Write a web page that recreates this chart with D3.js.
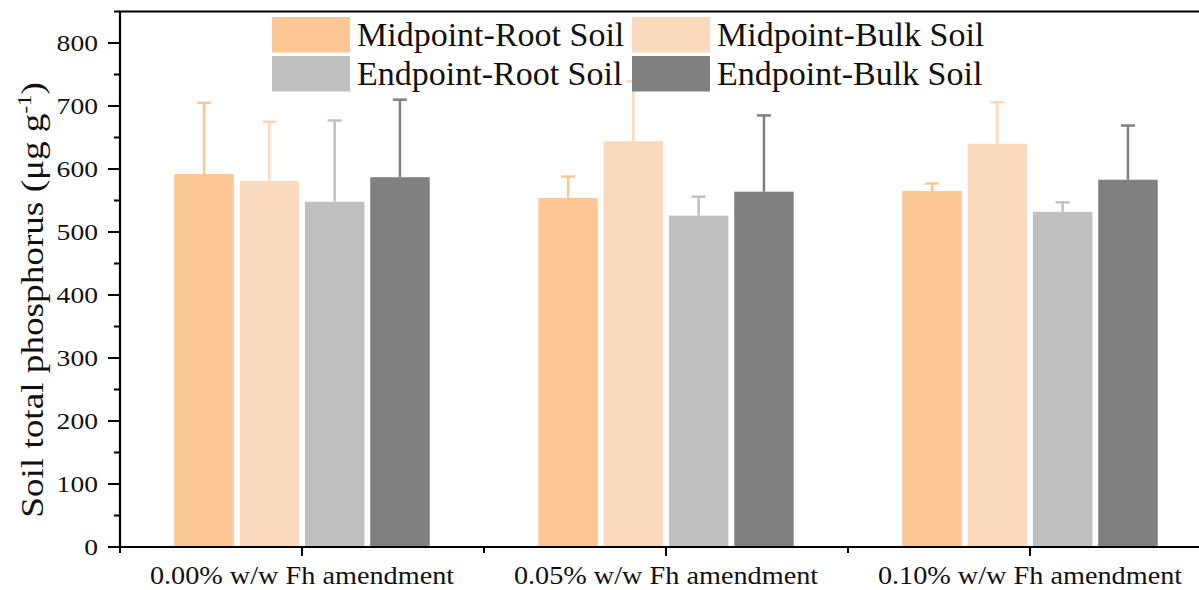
<!DOCTYPE html>
<html><head><meta charset="utf-8">
<script src="https://cdn.jsdelivr.net/npm/d3@7"></script>
<style>html,body{margin:0;padding:0;background:#fff;overflow:hidden}svg{display:block}text{font-family:"Liberation Serif","Times New Roman",serif;fill:#111}</style>
</head><body><svg id="c" width="1199" height="590"></svg>
<script>
const categories = ["0.00% w/w Fh amendment", "0.05% w/w Fh amendment", "0.10% w/w Fh amendment"];
const seriesNames = ["Midpoint-Root Soil", "Midpoint-Bulk Soil", "Endpoint-Root Soil", "Endpoint-Bulk Soil"];
const seriesColors = ["#FCC795", "#FAD9BC", "#C0C0C0", "#808080"];
const midRoot = [592, 554, 565];
const midRootErr = [113, 34, 12];
const midBulk = [581, 644, 640];
const midBulkErr = [94, 95, 66];
const endRoot = [548, 526, 532];
const endRootErr = [129, 30, 15];
const endBulk = [587, 564, 583];
const endBulkErr = [123, 121, 86];
const yTicks = [0, 100, 200, 300, 400, 500, 600, 700, 800];
const yLabel = "Soil total phosphorus (μg g";

const values = [midRoot, midBulk, endRoot, endBulk];
const errs = [midRootErr, midBulkErr, endRootErr, endBulkErr];

const svg = d3.select("#c");
const pLeft = 120, pBottom = 547, pTop = 11.5;
const bandW = 364;
const y = d3.scaleLinear().domain([0, 850]).range([pBottom, pTop]);
const x0 = d3.scaleBand().domain(categories).range([pLeft, pLeft + bandW * categories.length]).padding(0);
const x1 = d3.scaleBand().domain(seriesNames).range([-127.7, 127.7]).paddingInner(0.089).paddingOuter(0);

// bars
const g = svg.append("g");
categories.forEach((c, ci) => {
  const cx = x0(c) + x0.bandwidth() / 2;
  seriesNames.forEach((s, si) => {
    const v = values[si][ci], e = errs[si][ci];
    const bx = cx + x1(s);
    const mid = bx + x1.bandwidth() / 2;
    g.append("line").attr("x1", mid).attr("x2", mid).attr("y1", y(v)).attr("y2", y(v + e))
      .attr("stroke", seriesColors[si]).attr("stroke-width", 2.5);
    g.append("line").attr("x1", mid - 7).attr("x2", mid + 7).attr("y1", y(v + e)).attr("y2", y(v + e))
      .attr("stroke", seriesColors[si]).attr("stroke-width", 2.5);
    g.append("rect").attr("x", bx).attr("y", y(v)).attr("width", x1.bandwidth()).attr("height", y(0) - y(v))
      .attr("fill", seriesColors[si]);
  });
});

// y axis
const yAxis = svg.append("g");
yAxis.append("line").attr("x1", pLeft).attr("x2", pLeft).attr("y1", pTop).attr("y2", pBottom + 1).attr("stroke", "#000").attr("stroke-width", 2.2);
d3.range(0, 851, 50).forEach(t => {
  const major = t % 100 === 0;
  yAxis.append("line").attr("x1", pLeft - (major ? 12 : 6)).attr("x2", pLeft).attr("y1", y(t)).attr("y2", y(t))
    .attr("stroke", "#000").attr("stroke-width", 2);
});
yTicks.forEach(t => {
  yAxis.append("text").attr("transform", `translate(98,${y(t)}) scale(1.2,1)`).attr("dy", "0.34em").attr("text-anchor", "end")
    .attr("font-size", 23).text(t);
});

// top frame line
svg.append("line").attr("x1", pLeft - 1).attr("x2", 1199).attr("y1", pTop).attr("y2", pTop).attr("stroke", "#000").attr("stroke-width", 2.2);

// x axis
const xAxis = svg.append("g");
xAxis.append("line").attr("x1", pLeft - 1).attr("x2", 1199).attr("y1", pBottom).attr("y2", pBottom).attr("stroke", "#000").attr("stroke-width", 2.2);
categories.forEach((c, i) => {
  const cx = x0(c) + x0.bandwidth() / 2;
  xAxis.append("line").attr("x1", cx).attr("x2", cx).attr("y1", pBottom).attr("y2", pBottom + 9).attr("stroke", "#000").attr("stroke-width", 2);
  xAxis.append("line").attr("x1", x0(c)).attr("x2", x0(c)).attr("y1", pBottom).attr("y2", pBottom + 6).attr("stroke", "#000").attr("stroke-width", 2);
  xAxis.append("text").attr("transform", `translate(${cx},584) scale(1.13,1)`).attr("text-anchor", "middle").attr("font-size", 25).text(c);
});

// y label
const yl = svg.append("text").attr("transform", "translate(43,300) rotate(-90) scale(1.2,1)").attr("text-anchor", "middle").attr("font-size", 31);
yl.append("tspan").text(yLabel);
yl.append("tspan").attr("font-size", 19).attr("dy", -12).text("-1");
yl.append("tspan").attr("dy", 12).text(")");

// legend
const legPos = [[272, 17], [632, 17], [272, 56], [632, 56]];
seriesNames.forEach((s, i) => {
  const [lx, ly] = legPos[i];
  svg.append("rect").attr("x", lx).attr("y", ly).attr("width", 78).attr("height", 35.5).attr("fill", seriesColors[i]);
  svg.append("text").attr("x", lx + 85).attr("y", ly + 29).attr("font-size", 34).text(s);
});
</script></body></html>
